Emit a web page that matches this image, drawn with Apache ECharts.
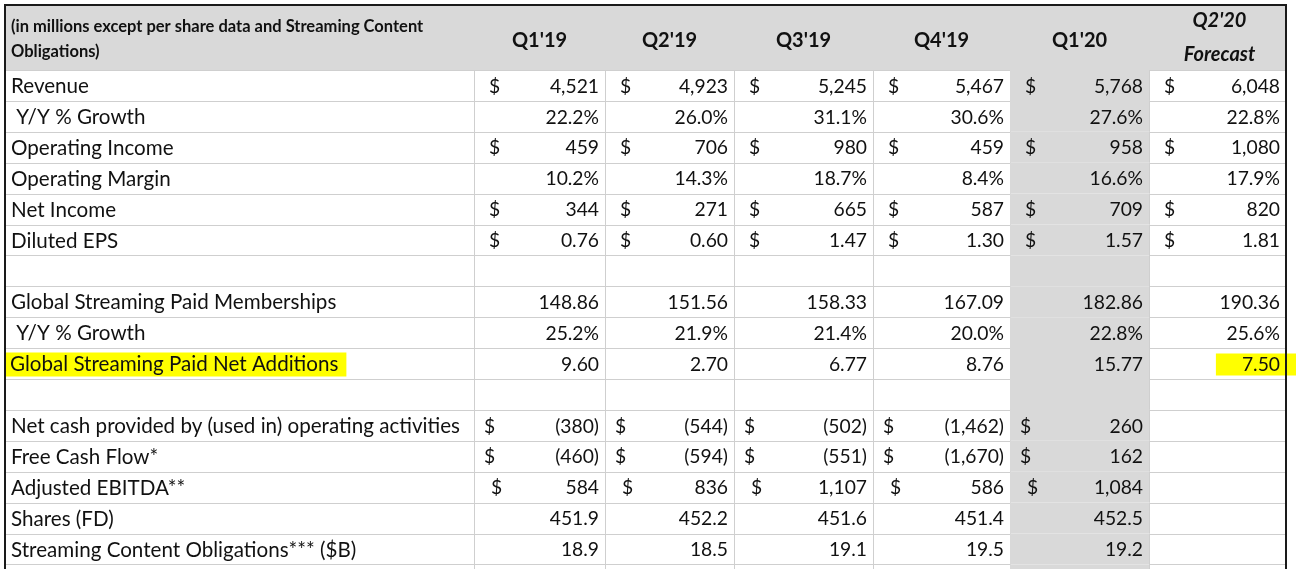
<!DOCTYPE html>
<html><head><meta charset="utf-8">
<script src="https://cdn.jsdelivr.net/npm/echarts@6/dist/echarts.min.js"></script>
<style>html,body{margin:0;padding:0;background:#fff}#c{width:1296px;height:569px}</style>
</head><body><div id="c"></div>
<script>
// ---------- data ----------
const noteText = "(in millions except per share data and Streaming Content\nObligations)";
const quarters = ["Q1'19", "Q2'19", "Q3'19", "Q4'19", "Q1'20", "Q2'20\nForecast"];
const rowLabels = [
  "Revenue", " Y/Y % Growth", "Operating Income", "Operating Margin", "Net Income", "Diluted EPS",
  "",
  "Global Streaming Paid Memberships", " Y/Y % Growth", "Global Streaming Paid Net Additions",
  "",
  "Net cash provided by (used in) operating activities", "Free Cash Flow*", "Adjusted EBITDA**",
  "Shares (FD)", "Streaming Content Obligations*** ($B)"
];
const revenue = [4521, 4923, 5245, 5467, 5768, 6048];
const revenueGrowth = [22.2, 26.0, 31.1, 30.6, 27.6, 22.8];
const operatingIncome = [459, 706, 980, 459, 958, 1080];
const operatingMargin = [10.2, 14.3, 18.7, 8.4, 16.6, 17.9];
const netIncome = [344, 271, 665, 587, 709, 820];
const dilutedEPS = [0.76, 0.60, 1.47, 1.30, 1.57, 1.81];
const paidMemberships = [148.86, 151.56, 158.33, 167.09, 182.86, 190.36];
const membershipGrowth = [25.2, 21.9, 21.4, 20.0, 22.8, 25.6];
const paidNetAdditions = [9.60, 2.70, 6.77, 8.76, 15.77, 7.50];
const operatingCashFlow = [-380, -544, -502, -1462, 260, null];
const freeCashFlow = [-460, -594, -551, -1670, 162, null];
const adjustedEBITDA = [584, 836, 1107, 586, 1084, null];
const sharesFD = [451.9, 452.2, 451.6, 451.4, 452.5, null];
const contentObligations = [18.9, 18.5, 19.1, 19.5, 19.2, null];

// ---------- row formats (which series, how shown) ----------
const rowSeries = [
  [revenue, 'int', 1], [revenueGrowth, 'pct', 0], [operatingIncome, 'int', 1], [operatingMargin, 'pct', 0],
  [netIncome, 'int', 1], [dilutedEPS, 'dec2', 1], [null],
  [paidMemberships, 'dec2', 0], [membershipGrowth, 'pct', 0], [paidNetAdditions, 'dec2', 0], [null],
  [operatingCashFlow, 'int', 2], [freeCashFlow, 'int', 2], [adjustedEBITDA, 'int', 3],
  [sharesFD, 'dec1', 0], [contentObligations, 'dec1', 0]
];

// ---------- layout ----------
const COL_W = [469, 131, 129, 139, 137, 139, 137];
const HEADER_H = 65, ROW_H = 30.9, AXIS_H = 564;
const DOLLAR_OFF = {1: 15, 2: 10, 3: 17};
const GRAY_COL = 5;
const FONT = 'Lato';
const LABEL_SIZE = 20.6, VALUE_SIZE = 19.3;
const TEXT_COLOR = '#111111';
const GRID_COLOR = '#cfcfcf';
const colEdges = [0];
COL_W.forEach(w => colEdges.push(colEdges[colEdges.length - 1] + w));
const rowTop = r => r === 0 ? 0 : HEADER_H + (r - 1) * ROW_H;
const rowBot = r => r === 0 ? HEADER_H : HEADER_H + r * ROW_H;

function fmt(v, kind) {
  if (v === null || v === undefined) return '';
  if (kind === 'pct') return v.toFixed(1) + '%';
  if (kind === 'dec2') return v.toFixed(2);
  if (kind === 'dec1') return v.toFixed(1);
  const s = Math.abs(v).toLocaleString('en-US');
  return v < 0 ? '(' + s + ')' : s;
}

const cells = [];
for (let r = 0; r <= rowLabels.length + 1; r++)
  for (let c = 0; c < COL_W.length; c++) cells.push([c, r]);
cells.push([-1, -1]); // outer frame

const px = v => Math.round(v) + 0.5;

function renderItem(params, api) {
  const c = api.value(0), r = api.value(1);
  const children = [];
  if (c === -1) {
    const a = api.coord([colEdges[0], 0]);
    const b = api.coord([colEdges[colEdges.length - 1], AXIS_H]);
    const st = {stroke: '#1a1a1a', lineWidth: 2};
    children.push({type: 'line', shape: {x1: a[0] - 1, y1: a[1], x2: b[0] + 1, y2: a[1]}, style: st});
    children.push({type: 'line', shape: {x1: a[0], y1: a[1], x2: a[0], y2: b[1] + 20}, style: st});
    children.push({type: 'line', shape: {x1: b[0], y1: a[1], x2: b[0], y2: b[1] + 20}, style: st});
    return {type: 'group', children};
  }
  const p0 = api.coord([colEdges[c], rowTop(r)]);
  const p1 = api.coord([colEdges[c + 1], rowBot(r)]);
  const x0 = p0[0], y0 = p0[1], x1 = p1[0], y1 = p1[1];
  const cy = (y0 + y1) / 2;
  const gray = r === 0 || c === GRAY_COL;
  if (gray) {
    children.push({type: 'rect', shape: {x: x0, y: y0, width: x1 - x0, height: y1 - y0}, style: {fill: '#d9d9d9'}});
    if (r === 0 && c === 0) {
      children.push({type: 'line', shape: {x1: px(x1), y1: y0, x2: px(x1), y2: y1}, style: {stroke: '#c2c2c2', lineWidth: 1}});
    }
  } else {
    const st = {stroke: GRID_COLOR, lineWidth: 1};
    children.push({type: 'line', shape: {x1: x0, y1: px(y0), x2: x1, y2: px(y0)}, style: st});
    children.push({type: 'line', shape: {x1: x0, y1: px(y1), x2: x1, y2: px(y1)}, style: st});
    children.push({type: 'line', shape: {x1: px(x0), y1: y0, x2: px(x0), y2: y1}, style: st});
    children.push({type: 'line', shape: {x1: px(x1), y1: y0, x2: px(x1), y2: y1}, style: st});
  }
  if (r === 0) {
    if (c === 0) {
      children.push({type: 'text', style: {text: noteText, x: x0 + 6, y: cy + 2, fontFamily: FONT, fontSize: 16.5, fontWeight: 'bold',
        fill: TEXT_COLOR, align: 'left', verticalAlign: 'middle', lineHeight: 25}});
    } else if (c === COL_W.length - 1) {
      children.push({type: 'text', style: {text: quarters[c - 1], x: (x0 + x1) / 2 + 2, y: cy, fontFamily: FONT, fontSize: 20,
        fontWeight: 'bold', fontStyle: 'italic', fill: TEXT_COLOR, align: 'center', verticalAlign: 'middle', lineHeight: 34}});
    } else {
      children.push({type: 'text', style: {text: quarters[c - 1], x: (x0 + x1) / 2, y: cy + 3, fontFamily: FONT, fontSize: 20,
        fontWeight: 'bold', fill: TEXT_COLOR, align: 'center', verticalAlign: 'middle'}});
    }
    return {type: 'group', children};
  }
  if (r > rowLabels.length) return {type: 'group', children};
  const i = r - 1;
  const highlight = i === 9;
  if (c === 0) {
    const st = {text: rowLabels[i], x: x0 + 6, y: cy + 1, fontFamily: FONT, fontSize: LABEL_SIZE, fill: TEXT_COLOR,
      align: 'left', verticalAlign: 'middle'};
    if (highlight) { st.backgroundColor = '#ffff00'; st.padding = [2, 8, 1, 4]; st.x = x0 + 1; }
    children.push({type: 'text', style: st});
  } else {
    const spec = rowSeries[i];
    if (spec[0]) {
      const v = spec[0][c - 1];
      const txt = fmt(v, spec[1]);
      if (txt) {
        const st = {text: txt, x: x1 - 6, y: cy + 1, fontFamily: FONT, fontSize: VALUE_SIZE, fill: TEXT_COLOR,
          align: 'right', verticalAlign: 'middle'};
        if (highlight && c === COL_W.length - 1) { st.backgroundColor = '#ffff00'; st.padding = [2, 22, 1, 26]; st.x = x1 + 16; }
        children.push({type: 'text', style: st});
        if (spec[2]) {
          children.push({type: 'text', style: {text: '$', x: x0 + DOLLAR_OFF[spec[2]], y: cy + 1, fontFamily: FONT, fontSize: VALUE_SIZE,
            fill: TEXT_COLOR, align: 'left', verticalAlign: 'middle'}});
        }
      }
    }
  }
  return {type: 'group', children};
}

const chart = echarts.init(document.getElementById('c'), null, {renderer: 'canvas'});
chart.setOption({
  animation: false,
  backgroundColor: '#ffffff',
  grid: {left: 5, top: 5, width: colEdges[colEdges.length - 1], height: AXIS_H},
  xAxis: {type: 'value', min: 0, max: colEdges[colEdges.length - 1], show: false},
  yAxis: {type: 'value', min: 0, max: AXIS_H, inverse: true, show: false},
  series: [{type: 'custom', renderItem, data: cells, clip: false, silent: true}]
});
</script></body></html>
